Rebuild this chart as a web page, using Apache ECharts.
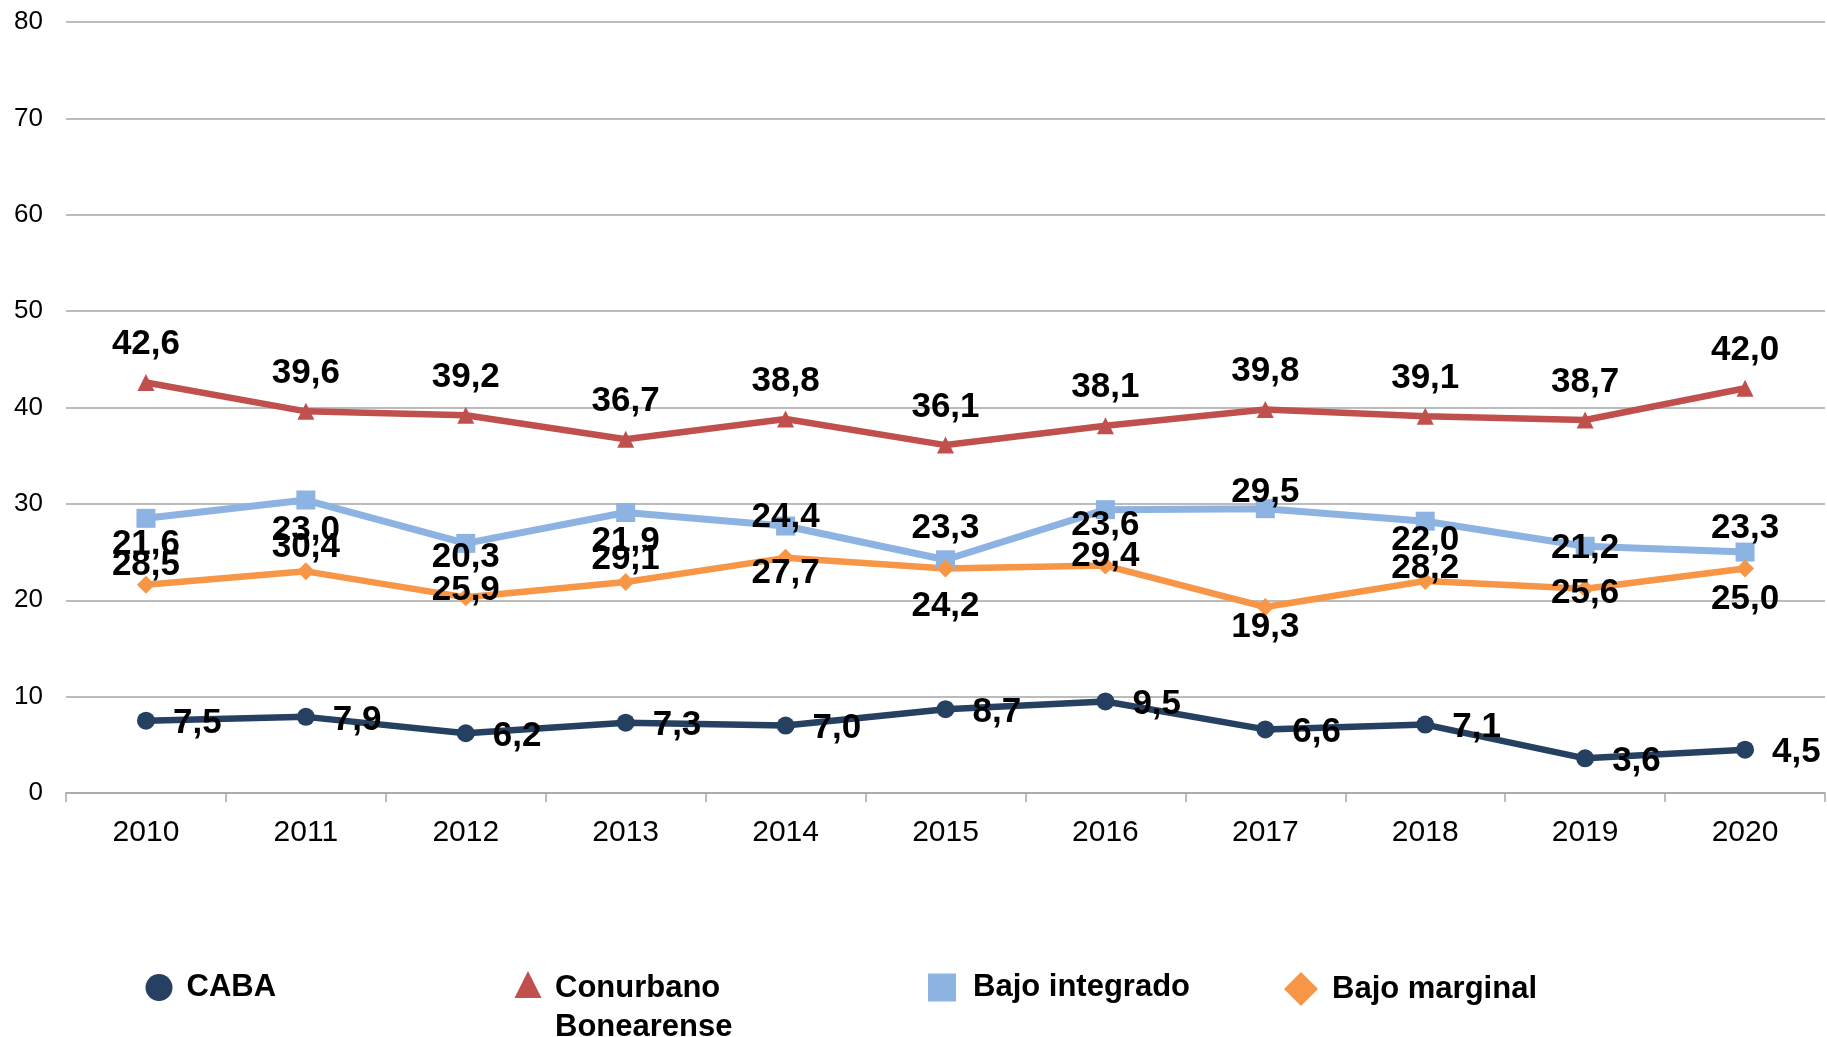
<!DOCTYPE html>
<html>
<head>
<meta charset="utf-8">
<script src="https://cdn.jsdelivr.net/npm/echarts@6/dist/echarts.min.js"></script>
<style>
html,body{margin:0;padding:0;background:#fff;}
#chart{width:1827px;height:1037px;}
</style>
</head>
<body>
<div id="chart"></div>
<script>
const years = ['2010','2011','2012','2013','2014','2015','2016','2017','2018','2019','2020'];
const caba = [7.5, 7.9, 6.2, 7.3, 7.0, 8.7, 9.5, 6.6, 7.1, 3.6, 4.5];
const conurbano = [42.6, 39.6, 39.2, 36.7, 38.8, 36.1, 38.1, 39.8, 39.1, 38.7, 42.0];
const bajoIntegrado = [28.5, 30.4, 25.9, 29.1, 27.7, 24.2, 29.4, 29.5, 28.2, 25.6, 25.0];
const bajoMarginal = [21.6, 23.0, 20.3, 21.9, 24.4, 23.3, 23.6, 19.3, 22.0, 21.2, 23.3];
const yTicks = [0, 10, 20, 30, 40, 50, 60, 70, 80];
const seriesNames = ['CABA', 'Conurbano Bonearense', 'Bajo integrado', 'Bajo marginal'];

const FONT = '"Liberation Sans", Arial, Helvetica, sans-serif';
const fmt = p => Number(p.value).toFixed(1).replace('.', ',');
const labelBase = {show: true, color: '#000', fontFamily: FONT, fontWeight: 'bold', fontSize: 35, formatter: fmt};

// per-point label placement: blue below / orange above, except 2017
const blueData = bajoIntegrado.map((v, i) => years[i] === '2017'
  ? {value: v, label: {position: 'top', distance: -11}} : v);
const orangeData = bajoMarginal.map((v, i) => years[i] === '2017'
  ? {value: v, label: {position: 'bottom', distance: -6}} : v);

const chart = echarts.init(document.getElementById('chart'));

function legendFor(name, icon, left, top, size, gap, lines) {
  const tok = {fontFamily: FONT, fontWeight: 'bold', fontSize: 31, color: '#000',
               lineHeight: lines ? 39 : 34, padding: [0, 0, 0, gap]};
  const spacer = {fontFamily: FONT, fontSize: 31, lineHeight: 47};
  return {
    data: [{name: name, icon: icon}],
    left: left, top: top, padding: 0,
    itemWidth: size, itemHeight: size,
    selectedMode: false,
    textStyle: {fontFamily: FONT, fontWeight: 'bold', fontSize: 31, color: '#000', rich: {t: tok, s: spacer}},
    formatter: lines ? ['{s| }'].concat(lines.map(s => '{t|' + s + '}')).join('\n') : '{t|' + name + '}'
  };
}

chart.setOption({
  animation: false,
  backgroundColor: '#fff',
  grid: {left: 66, top: 22, width: 1759, height: 771, containLabel: false},
  legend: [
    legendFor(seriesNames[0], 'circle', 145.5, 972, 27, 9),
    legendFor(seriesNames[1], 'triangle', 514.5, 930, 27, 8.5, ['Conurbano', 'Bonearense']),
    legendFor(seriesNames[2], 'rect', 928, 972, 28, 12),
    legendFor(seriesNames[3], 'diamond', 1284, 972, 34, 9)
  ],
  xAxis: {
    type: 'category', data: years, boundaryGap: true,
    axisLine: {show: true, lineStyle: {color: '#A6A6A6', width: 1.5}},
    axisTick: {show: true, length: 9, lineStyle: {color: '#A6A6A6', width: 1.5}},
    axisLabel: {fontFamily: FONT, fontSize: 30, color: '#000', margin: 25}
  },
  yAxis: {
    type: 'value', min: yTicks[0], max: yTicks[yTicks.length - 1], interval: yTicks[1] - yTicks[0],
    axisLine: {show: false}, axisTick: {show: false},
    splitLine: {lineStyle: {color: '#A6A6A6', width: 1.5}},
    axisLabel: {fontFamily: FONT, fontSize: 26, color: '#000', margin: 23}
  },
  series: [
    {name: seriesNames[0], type: 'line', data: caba, symbol: 'circle', symbolSize: 18,
     lineStyle: {color: '#254061', width: 6.5}, itemStyle: {color: '#254061'},
     label: Object.assign({}, labelBase, {position: 'right', distance: 18, offset: [0, 3]})},
    {name: seriesNames[1], type: 'line', data: conurbano, symbol: 'triangle', symbolSize: 17,
     lineStyle: {color: '#C0504D', width: 6.5}, itemStyle: {color: '#C0504D'},
     label: Object.assign({}, labelBase, {position: 'top', distance: 12})},
    {name: seriesNames[2], type: 'line', data: blueData, symbol: 'rect', symbolSize: 19,
     lineStyle: {color: '#8DB3E2', width: 7}, itemStyle: {color: '#8DB3E2'},
     label: Object.assign({}, labelBase, {position: 'bottom', distance: 20})},
    {name: seriesNames[3], type: 'line', data: orangeData, symbol: 'diamond', symbolSize: 18,
     lineStyle: {color: '#F79646', width: 6.5}, itemStyle: {color: '#F79646'},
     label: Object.assign({}, labelBase, {position: 'top', distance: 14})}
  ]
});
</script>
</body>
</html>
